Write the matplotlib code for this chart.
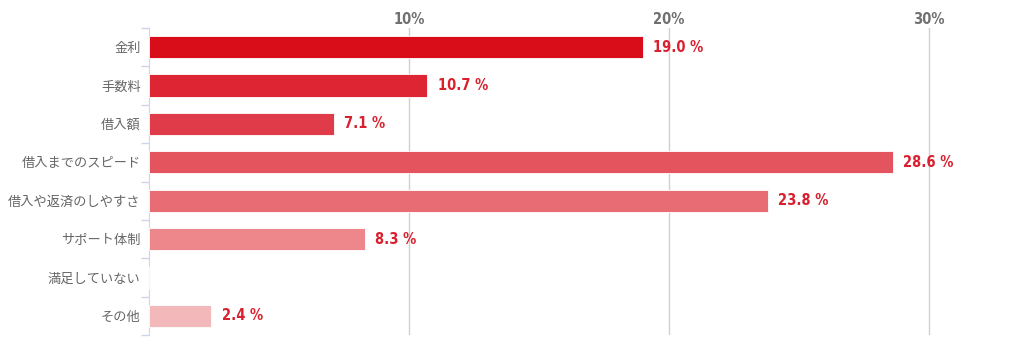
import numpy as np
import matplotlib.pyplot as plt
from matplotlib.ticker import FixedLocator
from matplotlib import font_manager

plt.rcParams['font.family'] = ['Noto Sans CJK JP', 'DejaVu Sans']

categories = ['金利', '手数料', '借入額', '借入までのスピード', '借入や返済のしやすさ',
              'サポート体制', '満足していない', 'その他']
values = [19.0, 10.7, 7.1, 28.6, 23.8, 8.3, 0.0, 2.4]
colors = ['#d90c1a', '#de2533', '#e03b48', '#e3545e', '#e86c73', '#ed878c', '#f0a0a4', '#f2b8ba']
xticks = [10, 20, 30]

# condensed font for the numbers, like the original
cond = font_manager.FontProperties(family='DejaVu Sans', stretch='condensed', weight='bold', size=10.5)

fig = plt.figure(figsize=(10.24, 3.47), dpi=100)
ax = fig.add_axes([149 / 1024, 1 - 335 / 347, (1007 - 149) / 1024, 307 / 347])

y = np.arange(len(categories))
ax.barh(y, values, height=0.58, color=colors, edgecolor='white', linewidth=0.6, zorder=3)

for yi, v in zip(y, values):
    if v > 0:
        ax.text(v + 0.4, yi, f'{v:.1f} %', va='center', ha='left', color='#d9202e',
                fontproperties=cond, zorder=4)

ax.set_xlim(0, 33)
ax.set_ylim(len(categories) - 0.5, -0.5)

ax.xaxis.tick_top()
ax.set_xticks(xticks)
ax.set_xticklabels([f'{t}%' for t in xticks], color='#707070', fontproperties=cond)
ax.tick_params(axis='x', length=0, pad=1)
ax.grid(axis='x', color='#d0d0d0', linewidth=1, zorder=0)

ax.set_yticks(y)
ax.set_yticklabels(categories, color='#666666', fontsize=9.5)
ax.tick_params(axis='y', length=0, pad=6)
ax.yaxis.set_minor_locator(FixedLocator(np.arange(-0.5, len(categories) + 0.5, 1)))
ax.tick_params(axis='y', which='minor', length=6, color='#ccd6eb', width=1)

for s in ['top', 'right', 'bottom']:
    ax.spines[s].set_visible(False)
ax.spines['left'].set_color('#ccd6eb')

fig.savefig('out.png', dpi=100)
